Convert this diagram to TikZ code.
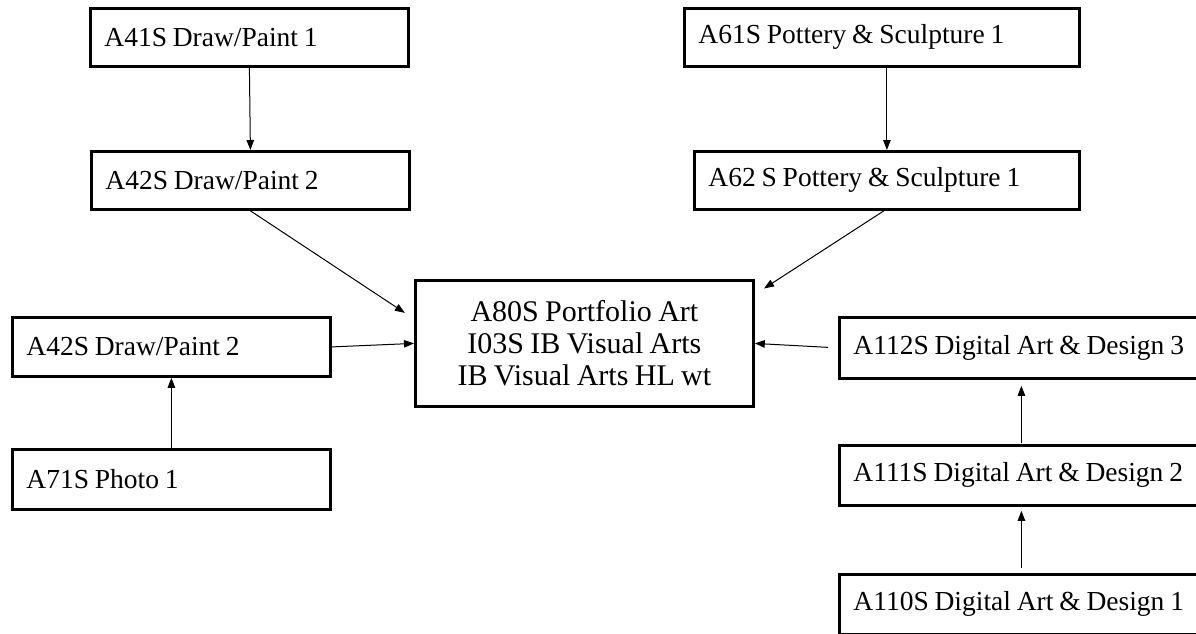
\documentclass[tikz,border=0pt]{standalone}
\usepackage{fontspec}
\setmainfont{Liberation Serif}[WordSpace=0.85]
\usetikzlibrary{arrows.meta,calc}
\newcommand\leftbox[2]{\makebox[#1][l]{#2}}
\begin{document}
\begin{tikzpicture}[x=1pt,y=-1pt,
  box/.style={draw, line width=2.8pt, anchor=north west, inner xsep=14pt, inner ysep=0pt,
    font=\fontsize{27.5}{32}\selectfont},
  arr/.style={-{Triangle[length=10pt,width=7.5pt]}, line width=1pt}]
\useasboundingbox (0,0) rectangle (1196,633);
\clip (0,0) rectangle (1196,633);
% top left column
\node[box, minimum height=58pt] (a41) at (89,7) {\leftbox{290pt}{A41S Draw/Paint 1}};
\node[box, minimum height=58pt] (a42t) at (90,150) {\leftbox{290pt}{A42S Draw/Paint 2}};
% top right column
\node[box, minimum height=58pt] (a61) at (683,7) {\leftbox{367pt}{A61S Pottery \& Sculpture 1}};
\node[box, minimum height=58pt] (a62) at (693,150) {\leftbox{357pt}{A62 S Pottery \& Sculpture 1}};
% left column
\node[box, minimum height=59pt] (l42) at (11,316) {\leftbox{290pt}{A42S Draw/Paint 2}};
\node[box, minimum height=60pt] (a71) at (11,448) {\leftbox{290pt}{A71S Photo 1}};
% center
\node[box, align=center, inner xsep=0pt, minimum width=338pt, minimum height=126pt,
  font=\fontsize{30}{32}\selectfont] (cen) at (414,279)
  {A80S Portfolio Art\\I03S IB Visual Arts\\IB Visual Arts HL wt};
% right column
\node[box, minimum height=61pt] (r112) at (838,316) {\leftbox{336pt}{A112S Digital Art \& Design 3}};
\node[box, minimum height=60pt] (r111) at (838,444) {\leftbox{336pt}{A111S Digital Art \& Design 2}};
\node[box, minimum height=60pt] (r110) at (838,573) {\leftbox{336pt}{A110S Digital Art \& Design 1}};
% connectors
\draw[arr] (a41.south) -- (a42t.north);
\draw[arr] (a61.south -| a62.north) -- (a62.north);
\coordinate (cl) at ($(cen.north west)!0.31!(cen.south west)$);
\coordinate (cr) at ($(cen.north east)!0.12!(cen.south east)$);
\draw[arr, shorten >=11pt] (a42t.south) -- (cl);
\draw[arr, shorten >=11pt] ($(a62.south)+(-3,0)$) -- (cr);
\draw[arr] (l42.east) -- (cen.west);
\draw[arr, shorten <=10pt] (r112.west) -- (cen.east);
\draw[arr] (a71.north) -- (l42.south);
\draw[arr, shorten <=1pt, shorten >=6pt] (r111.north) -- (r112.south);
\draw[arr, shorten <=5pt, shorten >=4pt] (r110.north) -- (r111.south);
\end{tikzpicture}
\end{document}
